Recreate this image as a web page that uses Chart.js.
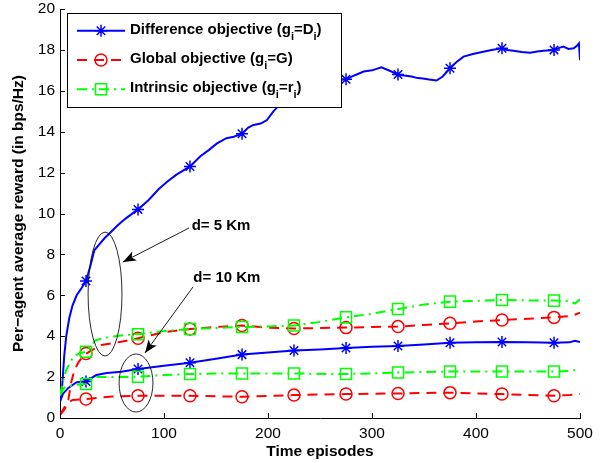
<!DOCTYPE html>
<html><head><meta charset="utf-8">
<script src="https://cdn.jsdelivr.net/npm/chart.js@4.4.1/dist/chart.umd.min.js"></script>
<style>html,body{margin:0;padding:0;background:#fff;}canvas{display:block;}</style>
</head><body>
<canvas id="c" width="607" height="463"></canvas>
<script>
// ---------------- data ----------------
const markerEpisodes = [25, 75, 125, 175, 225, 275, 325, 375, 425, 475];

// Difference objective, d = 5 Km
const epDiff5 = [0,2,4,6,9,12,16,20,25,29,33,38,43,48,55,63,75,85,95,103,112,125,135,143,151,160,167,175,181,186,193,199,205,210,217,225,235,245,255,265,275,283,292,300,309,317,325,331,338,344,349,355,362,368,375,381,388,397,407,415,425,430,436,444,452,459,465,475,480,484,489,494,497,499,500];
const diff5 = [0.8,1.5,3.0,4.0,4.9,5.5,6.0,6.3,6.7,7.4,8.2,8.5,8.8,9.05,9.4,9.75,10.2,10.65,11.2,11.55,11.9,12.3,12.8,13.1,13.43,13.68,13.75,13.9,14.2,14.33,14.4,14.57,14.98,15.26,15.5,15.85,16.1,16.3,16.4,16.5,16.56,16.75,16.94,17.0,17.15,16.98,16.8,16.75,16.7,16.62,16.6,16.55,16.5,16.7,17.1,17.4,17.67,17.8,17.91,18.0,18.08,18.0,17.96,17.9,17.86,17.92,17.96,18.0,18.1,18.16,18.05,18.08,18.2,18.32,17.5];

// Difference objective, d = 10 Km
const epDiff10 = [0,3,8,16,25,30,35,45,59,75,100,125,150,175,200,225,250,275,300,325,350,375,400,425,450,475,490,495,500];
const diff10 = [0.8,1.2,1.47,1.75,1.78,1.95,2.1,2.2,2.26,2.4,2.55,2.7,2.9,3.1,3.2,3.3,3.35,3.42,3.48,3.52,3.6,3.68,3.7,3.72,3.7,3.68,3.7,3.78,3.72];

// Global objective, d = 5 Km
const epGlob5 = [0,4,8,11,14,18,22,25,30,40,50,59,75,100,125,150,175,200,225,250,275,300,325,350,375,400,425,450,475,490,495,500];
const glob5 = [0.15,0.5,0.9,1.8,2.35,2.75,3.0,3.15,3.3,3.57,3.65,3.73,3.9,4.2,4.35,4.45,4.52,4.42,4.38,4.4,4.42,4.45,4.47,4.55,4.63,4.72,4.79,4.85,4.92,4.98,5.05,5.15];

// Global objective, d = 10 Km
const epGlob10 = [0,4,8,12,25,50,75,100,125,150,175,200,225,250,275,300,325,350,375,400,425,450,475,490,500];
const glob10 = [0.15,0.4,0.75,0.88,0.93,1.05,1.09,1.09,1.09,1.06,1.04,1.08,1.12,1.15,1.17,1.19,1.2,1.22,1.24,1.2,1.17,1.12,1.09,1.13,1.17];

// Intrinsic objective, d = 5 Km
const epIntr5 = [0,3,6,10,13,18,25,30,34,42,50,60,75,100,125,150,175,200,225,250,275,300,325,350,375,400,425,450,475,490,495,500];
const intr5 = [1.1,1.8,2.35,2.75,3.0,3.15,3.24,3.5,3.8,3.9,3.98,4.05,4.1,4.25,4.35,4.4,4.45,4.48,4.52,4.7,4.92,5.1,5.33,5.55,5.69,5.73,5.77,5.75,5.74,5.72,5.6,5.8];

// Intrinsic objective, d = 10 Km
const epIntr10 = [0,3,5,13,20,25,30,34,45,59,75,100,125,150,175,200,225,250,275,300,325,350,375,400,425,450,475,490,500];
const intr10 = [1.1,1.4,1.53,1.6,1.65,1.66,1.85,2.0,2.0,2.0,2.02,2.1,2.15,2.17,2.18,2.18,2.18,2.16,2.15,2.18,2.22,2.25,2.27,2.27,2.27,2.27,2.27,2.3,2.38];

const seriesLabels = ['Difference objective (gᵢ=Dᵢ)', 'Global objective (gᵢ=G)', 'Intrinsic objective (gᵢ=rᵢ)'];
const legendParts = [
  ['Difference objective (g', '_i', '=D', '_i', ')'],
  ['Global objective (g', '_i', '=G)'],
  ['Intrinsic objective (g', '_i', '=r', '_i', ')']
];
const xTitle = 'Time episodes';
const yTitle = 'Per\u2212agent average reward (in bps/Hz)';
const annotationTexts = ['d= 5 Km', 'd= 10 Km'];

// ---------------- styles ----------------
const FONT = "'Liberation Sans', Arial, Helvetica, sans-serif";
const BLUE = '#0000ff', RED = '#ff0000', GREEN = '#00ff00';
const DASH_RED = [10, 7], DASH_GREEN = [10, 5, 2, 5];
const pts = (ep, v) => ep.map((e, i) => ({x: e, y: v[i]}));
const radiusFor = (r) => (ctx) => (ctx.raw && markerEpisodes.includes(ctx.raw.x)) ? r : 0;

function mk(label, ep, vals, color, dash, style, r) {
  return {
    label, data: pts(ep, vals), borderColor: color, borderWidth: 2, borderDash: dash,
    pointStyle: style, pointRadius: radiusFor(r), pointHoverRadius: radiusFor(r),
    pointBorderColor: color, pointBackgroundColor: 'rgba(0,0,0,0)', pointBorderWidth: 1.5,
    tension: 0, fill: false
  };
}

const datasets = [
  mk(seriesLabels[2] + ', d= 5 Km', epIntr5, intr5, GREEN, DASH_GREEN, 'rect', 7.8),
  mk(seriesLabels[2] + ', d= 10 Km', epIntr10, intr10, GREEN, DASH_GREEN, 'rect', 7.8),
  mk(seriesLabels[1] + ', d= 5 Km', epGlob5, glob5, RED, DASH_RED, 'circle', 6),
  mk(seriesLabels[1] + ', d= 10 Km', epGlob10, glob10, RED, DASH_RED, 'circle', 6),
  mk(seriesLabels[0] + ', d= 5 Km', epDiff5, diff5, BLUE, [], 'star', 6),
  mk(seriesLabels[0] + ', d= 10 Km', epDiff10, diff10, BLUE, [], 'star', 6)
];

// annotation geometry (in data units, converted through the scales)
const ellipses = [{cx: 43.3, cy: 6.06, rx: 16.3, ry: 3.03}, {cx: 73.1, cy: 1.71, rx: 16.3, ry: 1.42}];
const arrows = [{x1: 124, y1: 9.29, x2: 60.6, y2: 7.63}, {x1: 127.9, y1: 6.41, x2: 81.7, y2: 3.18}];
const textPos = [{x: 126.6, y: 9.39}, {x: 128.2, y: 6.83}];

function drawMarker(ctx, style, x, y, r, color) {
  ctx.save(); ctx.strokeStyle = color; ctx.lineWidth = 1.5; ctx.setLineDash([]);
  ctx.beginPath();
  if (style === 'star') {
    for (let a = 0; a < 4; a++) { const t = a * Math.PI / 4;
      ctx.moveTo(x - r * Math.cos(t), y - r * Math.sin(t)); ctx.lineTo(x + r * Math.cos(t), y + r * Math.sin(t)); }
  } else if (style === 'circle') { ctx.arc(x, y, r, 0, Math.PI * 2); }
  else { const s = r * Math.SQRT1_2; ctx.rect(x - s, y - s, 2 * s, 2 * s); }
  ctx.stroke(); ctx.restore();
}

function drawArrow(ctx, x1, y1, x2, y2) {
  ctx.beginPath(); ctx.moveTo(x1, y1); ctx.lineTo(x2, y2); ctx.stroke();
  const ang = Math.atan2(y2 - y1, x2 - x1), L = 13, W = 5;
  const c = Math.cos(ang), s = Math.sin(ang);
  const bx = x2 - L * c, by = y2 - L * s;
  ctx.beginPath(); ctx.moveTo(x2, y2);
  ctx.lineTo(bx - s * W, by + c * W);
  ctx.lineTo(x2 - 0.75 * L * c, y2 - 0.75 * L * s);
  ctx.lineTo(bx + s * W, by - c * W);
  ctx.closePath(); ctx.fill();
}

const extras = {
  id: 'extras',
  afterDatasetsDraw(chart) {
    const ctx = chart.ctx, xs = chart.scales.x, ys = chart.scales.y, a = chart.chartArea;
    ctx.save();
    // inward tick marks
    ctx.strokeStyle = '#000'; ctx.lineWidth = 1; ctx.setLineDash([]);
    ctx.beginPath();
    xs.ticks.forEach(t => { const px = Math.round(xs.getPixelForValue(t.value)) + 0.5; ctx.moveTo(px, a.bottom); ctx.lineTo(px, a.bottom - 5); });
    ys.ticks.forEach(t => { const py = Math.round(ys.getPixelForValue(t.value)) + 0.5; ctx.moveTo(a.left, py); ctx.lineTo(a.left + 5, py); });
    ctx.stroke();

    // ellipses
    ctx.strokeStyle = '#111'; ctx.lineWidth = 0.9;
    ellipses.forEach(e => {
      const cx = xs.getPixelForValue(e.cx), cy = ys.getPixelForValue(e.cy);
      const rx = Math.abs(xs.getPixelForValue(e.cx + e.rx) - cx), ry = Math.abs(ys.getPixelForValue(e.cy + e.ry) - cy);
      ctx.beginPath(); ctx.ellipse(cx, cy, rx, ry, 0, 0, Math.PI * 2); ctx.stroke();
    });
    // arrows
    ctx.strokeStyle = '#000'; ctx.fillStyle = '#000'; ctx.lineWidth = 0.9;
    arrows.forEach(r => drawArrow(ctx, xs.getPixelForValue(r.x1), ys.getPixelForValue(r.y1), xs.getPixelForValue(r.x2), ys.getPixelForValue(r.y2)));
    // annotation texts
    ctx.font = 'bold 15px ' + FONT; ctx.textBaseline = 'middle'; ctx.textAlign = 'left';
    annotationTexts.forEach((t, i) => ctx.fillText(t, xs.getPixelForValue(textPos[i].x), ys.getPixelForValue(textPos[i].y)));

    // legend box
    const lx = a.left + 7, ly = a.top + 4, lw = 274, lh = 94;
    ctx.fillStyle = '#fff'; ctx.fillRect(lx, ly, lw, lh);
    ctx.strokeStyle = '#000'; ctx.lineWidth = 1;
    ctx.strokeRect(Math.round(lx) + 0.5, Math.round(ly) + 0.5, lw, lh);
    const rowStyle = [[BLUE, [], 'star', 6], [RED, DASH_RED, 'circle', 6], [GREEN, DASH_GREEN, 'rect', 7.8]];
    legendParts.forEach((parts, i) => {
      const [col, dash, style, r] = rowStyle[i];
      const yLine = ly + 17.7 + i * 29.3;
      ctx.strokeStyle = col; ctx.lineWidth = 2; ctx.setLineDash(dash);
      ctx.beginPath(); ctx.moveTo(lx + 10, yLine); ctx.lineTo(lx + 58, yLine); ctx.stroke();
      ctx.setLineDash([]);
      drawMarker(ctx, style, lx + 34, yLine, r, col);
      let tx = lx + 63; const base = ly + 20.5 + i * 29.3;
      ctx.fillStyle = '#000'; ctx.textBaseline = 'alphabetic';
      parts.forEach(p => {
        if (p.startsWith('_')) { ctx.font = 'bold 11px ' + FONT; const s = p.slice(1); ctx.fillText(s, tx, base + 6); tx += ctx.measureText(s).width; }
        else { ctx.font = 'bold 15px ' + FONT; ctx.fillText(p, tx, base); tx += ctx.measureText(p).width; }
      });
    });
    ctx.restore();
  }
};

Chart.defaults.font.family = FONT;
Chart.defaults.color = '#000';

new Chart(document.getElementById('c'), {
  type: 'line',
  data: {datasets},
  plugins: [extras],
  options: {
    responsive: false, animation: false, devicePixelRatio: 1, events: [],
    layout: {padding: {left: 0, right: 27, top: 9, bottom: 0}},
    plugins: {legend: {display: false}, tooltip: {enabled: false}},
    scales: {
      x: {
        type: 'linear', min: 0, max: 500,
        ticks: {stepSize: 100, font: {size: 15.5}, color: '#000', padding: 6, maxRotation: 0},
        grid: {display: false, drawTicks: false},
        border: {display: true, color: '#000', width: 1},
        title: {display: true, text: xTitle, font: {size: 15.5, weight: 'bold'}, color: '#000', padding: {top: 0, bottom: 2}},
        afterFit: (s) => { s.height = 45; s.paddingLeft = 0; s.paddingRight = 0; }
      },
      y: {
        type: 'linear', min: 0, max: 20,
        ticks: {stepSize: 2, font: {size: 15.5}, color: '#000', padding: 5},
        grid: {display: false, drawTicks: false},
        border: {display: true, color: '#000', width: 1},
        title: {display: true, text: yTitle, font: {size: 15.5, weight: 'bold'}, color: '#000', padding: {top: 9, bottom: 0}},
        afterFit: (s) => { s.width = 60; s.paddingTop = 0; s.paddingBottom = 0; }
      }
    }
  }
});
</script>
</body></html>
